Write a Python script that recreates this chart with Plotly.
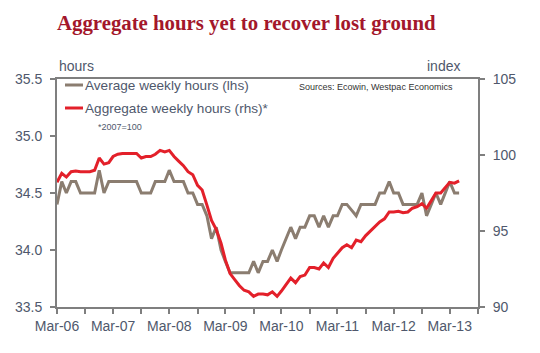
import pandas as pd
import plotly.graph_objects as go

start_month = "2006-03-01"
n_months = 87
months = pd.date_range(start_month, periods=n_months, freq="MS")

avg_weekly_hours = [
    34.4, 34.6, 34.5, 34.6, 34.6, 34.5, 34.5, 34.5, 34.5, 34.7,
    34.5, 34.6, 34.6, 34.6, 34.6, 34.6, 34.6, 34.6, 34.5, 34.5,
    34.5, 34.6, 34.6, 34.6, 34.7, 34.6, 34.6, 34.6, 34.5, 34.5,
    34.4, 34.4, 34.3, 34.1, 34.2, 34.0, 33.9, 33.8, 33.8, 33.8,
    33.8, 33.8, 33.9, 33.8, 33.9, 33.9, 34.0, 33.9, 34.0, 34.1,
    34.2, 34.1, 34.2, 34.2, 34.3, 34.3, 34.2, 34.3, 34.2, 34.3,
    34.3, 34.4, 34.4, 34.35, 34.3, 34.4, 34.4, 34.4, 34.4, 34.5,
    34.5, 34.6, 34.5, 34.5, 34.4, 34.4, 34.4, 34.4, 34.5, 34.3,
    34.4, 34.5, 34.4, 34.5, 34.6, 34.5, 34.5,
]

agg_weekly_hours = [
    98.2, 98.8, 98.55, 98.9, 98.95, 98.9, 98.9, 98.9, 99.0, 99.8,
    99.4, 99.5, 99.9, 100.05, 100.1, 100.1, 100.1, 100.1, 99.8, 99.9,
    99.9, 100.05, 100.3, 100.2, 100.3, 99.9, 99.6, 99.3, 98.9, 98.7,
    98.0, 97.7, 96.7, 95.7, 95.1, 94.2, 93.1, 92.2, 91.8, 91.4,
    91.1, 91.0, 90.7, 90.85, 90.85, 90.8, 91.0, 90.7, 91.05, 91.45,
    91.9, 91.6, 92.0, 92.1, 92.6, 92.6, 92.5, 92.9, 92.6, 93.2,
    93.5, 93.9, 94.1, 93.9, 94.4, 94.3, 94.7, 95.0, 95.3, 95.6,
    95.8, 96.25, 96.25, 96.3, 96.2, 96.25, 96.5, 96.6, 96.8, 96.5,
    97.0, 97.5, 97.5, 97.9, 98.2, 98.15, 98.3,
]

series_names = ["Average weekly hours (lhs)", "Aggregate weekly hours (rhs)*"]
title_text = "Aggregate hours yet to recover lost ground"
x_range = ["2006-03-01", "2013-09-01"]
left_range = [33.5, 35.5]
right_range = [90, 105]

GRAY = "#8b7d70"
RED = "#e3202a"
AXIS = "#7f7f7f"
TXT = "#4f586c"

fig = go.Figure()
fig.add_trace(go.Scatter(x=months, y=avg_weekly_hours, mode="lines",
                         line=dict(color=GRAY, width=3), name=series_names[0],
                         yaxis="y"))
fig.add_trace(go.Scatter(x=months, y=agg_weekly_hours, mode="lines",
                         line=dict(color=RED, width=3), name=series_names[1],
                         yaxis="y2"))

fig.update_layout(
    width=540, height=353,
    margin=dict(l=57, r=62, t=79, b=46),
    paper_bgcolor="white", plot_bgcolor="white",
    showlegend=False,
    font=dict(family="Arial, Liberation Sans, sans-serif", color=TXT, size=14),
    xaxis=dict(
        type="date", range=x_range, showgrid=False, zeroline=False,
        showline=True, linecolor=AXIS, linewidth=2, mirror=True,
        tick0="2006-03-01", dtick="M12", tickformat="%b-%y",
        ticks="outside", ticklen=5, tickcolor=AXIS, tickwidth=1.5,
        minor=dict(dtick="M6", tick0="2006-03-01", ticks="outside",
                   ticklen=5, tickcolor=AXIS, tickwidth=1.5),
        tickfont=dict(size=14, color=TXT),
    ),
    yaxis=dict(
        range=left_range, dtick=0.5, tickformat=".1f", showgrid=False,
        zeroline=False, showline=True, linecolor=AXIS, linewidth=2,
        ticks="outside", ticklen=5, tickcolor=AXIS, tickwidth=1.5,
        ticklabelstandoff=5, tickfont=dict(size=14, color=TXT),
    ),
    yaxis2=dict(
        range=right_range, dtick=5, overlaying="y", side="right",
        showgrid=False, zeroline=False, showline=True, linecolor=AXIS,
        linewidth=2, ticks="outside", ticklen=5, tickcolor=AXIS,
        tickwidth=1.5, ticklabelstandoff=5, tickfont=dict(size=14, color=TXT),
    ),
)

# title
fig.add_annotation(text="<b>" + title_text + "</b>", xref="paper", yref="paper",
                   x=-0.005, y=1.245, xanchor="left", yanchor="middle",
                   showarrow=False,
                   font=dict(family="Liberation Serif, Times New Roman, serif",
                             size=20.8, color="#a3172b"))
# axis unit labels
fig.add_annotation(text="hours", xref="paper", yref="paper", x=0.0, y=1.055,
                   xanchor="left", yanchor="middle", showarrow=False,
                   font=dict(size=14, color=TXT))
fig.add_annotation(text="index", xref="paper", yref="paper", x=0.962, y=1.055,
                   xanchor="right", yanchor="middle", showarrow=False,
                   font=dict(size=14, color=TXT))

# legend (manual)
leg_y = [1 - (85 - 79) / 228, 1 - (108 - 79) / 228]
leg_colors = [GRAY, RED]
for name, ly, col in zip(series_names, leg_y, leg_colors):
    fig.add_shape(type="line", xref="paper", yref="paper",
                  x0=(65 - 57) / 421, x1=(83 - 57) / 421, y0=ly, y1=ly,
                  line=dict(color=col, width=3))
    fig.add_annotation(text=name, xref="paper", yref="paper",
                       x=(83 - 57) / 421, y=ly, xanchor="left", yanchor="middle",
                       showarrow=False, font=dict(size=13.6, color=TXT))
fig.add_annotation(text="*2007=100", xref="paper", yref="paper",
                   x=(96 - 57) / 421, y=1 - (127 - 79) / 228,
                   xanchor="left", yanchor="middle", showarrow=False,
                   font=dict(size=9, color=TXT))
fig.add_annotation(text="Sources: Ecowin, Westpac Economics", xref="paper",
                   yref="paper", x=(455 - 57) / 421, y=1 - (87 - 79) / 228,
                   xanchor="right", yanchor="middle", showarrow=False,
                   font=dict(size=9, color="#333333"))

fig.write_html("out.html")
